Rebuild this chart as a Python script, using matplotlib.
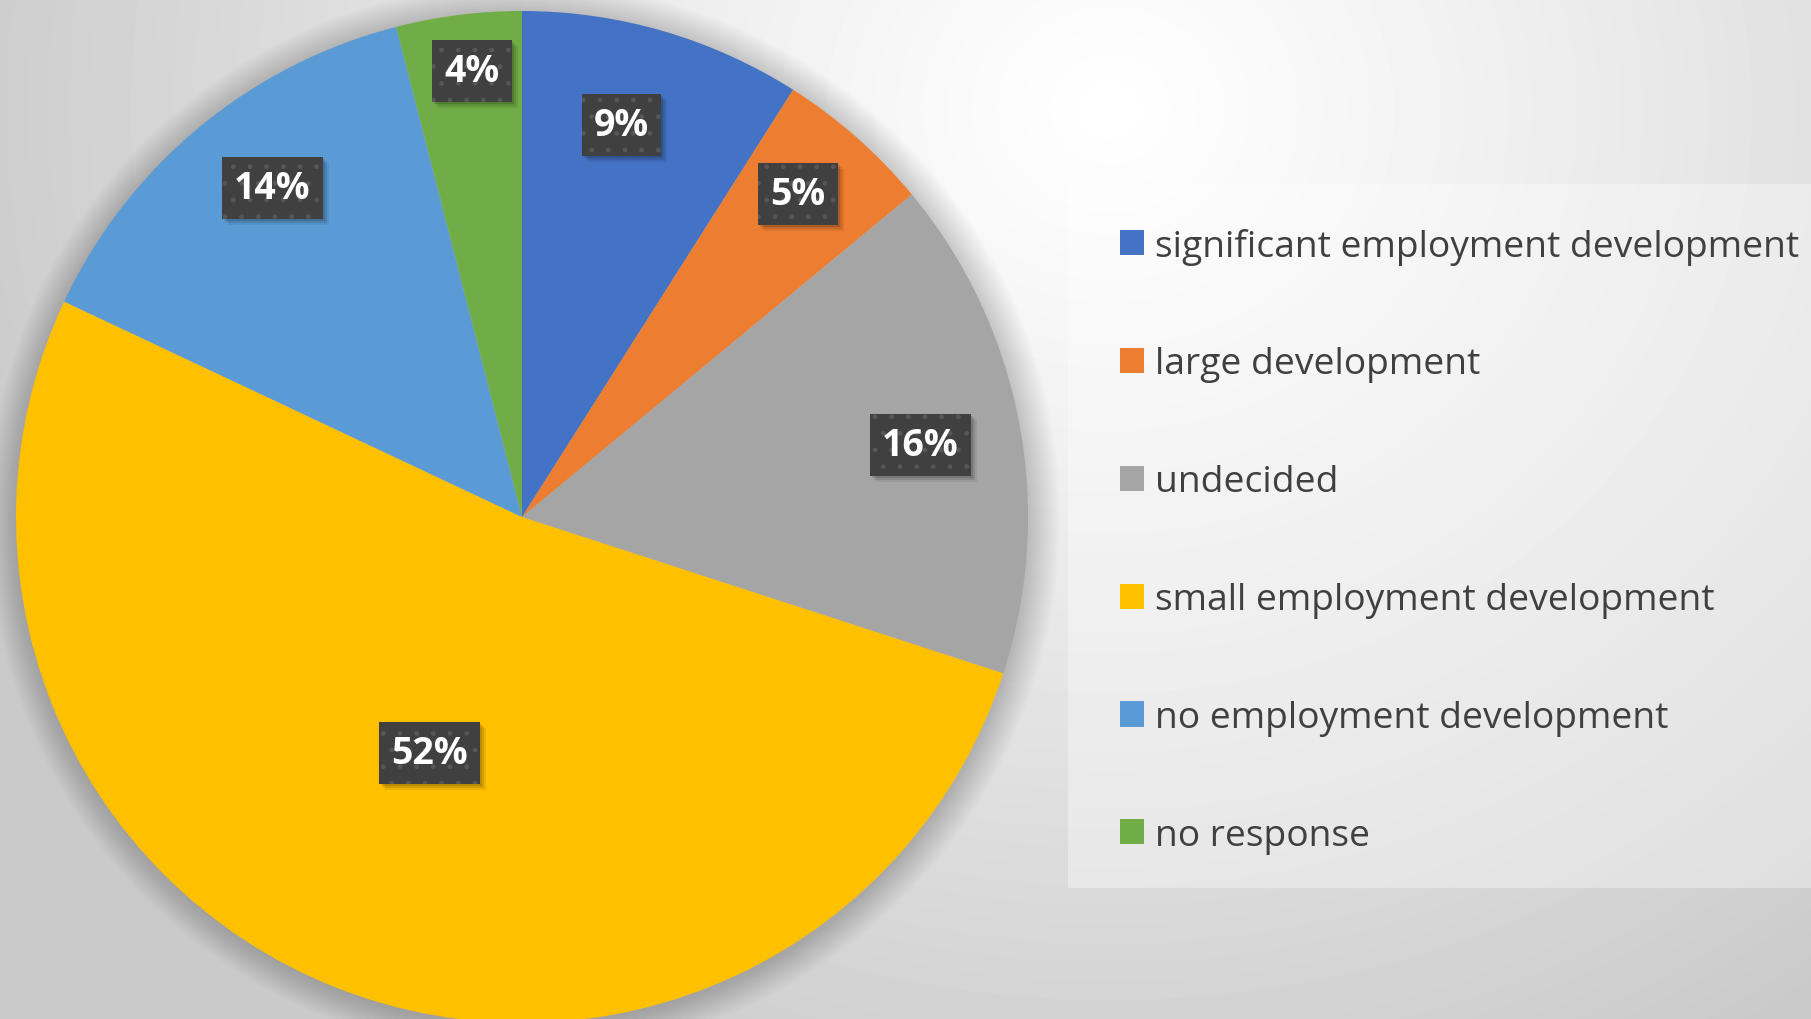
import numpy as np
import matplotlib
matplotlib.use("Agg")
import matplotlib.pyplot as plt
from matplotlib.patches import Circle, Rectangle

# data
categories = ["significant employment development", "large development", "undecided",
              "small employment development", "no employment development", "no response"]
shares = [9, 5, 16, 52, 14, 4]
labels = ["9%", "5%", "16%", "52%", "14%", "4%"]
colors = ["#4472C4", "#ED7D31", "#A5A5A5", "#FFC000", "#5B9BD5", "#70AD47"]

W, H = 1811, 1020
fig = plt.figure(figsize=(W / 100, H / 100), dpi=100)
ax = fig.add_axes([0, 0, 1, 1])

# radial grey background, whitest near the upper right of the pie
yy, xx = np.mgrid[0:H, 0:W]
d = np.hypot(xx - 1110, (yy - 110) * 1.1) / 1200
bg = 1.0 - 0.21 * np.clip(d, 0, 1) ** 1.1
ax.imshow(bg, cmap="gray", vmin=0, vmax=1, extent=(0, W, 0, H), origin="upper", zorder=0)

cx, cy, r = 522, H - 518, 506

# soft shadow around the pie
for i in range(16):
    ax.add_patch(Circle((cx + 2, cy - 2), r + 2 * i, color="black", alpha=0.01, lw=0, zorder=1))

wedges, _ = ax.pie(shares, colors=colors, startangle=90, counterclock=False,
                   center=(cx, cy), radius=r, frame=True,
                   wedgeprops=dict(linewidth=0))
for w in wedges:
    w.set_zorder(2)

ax.set_xlim(0, W)
ax.set_ylim(0, H)
ax.axis("off")

# best-fit label placement: fraction of radius and small angle shift
dist = [0.80, 0.84, 0.80, 0.50, 0.816, 0.886]
shift = [2.0, 0.9, -0.6, 0.2, -2.4, -0.8]
texts = []
for w, lab, f, s in zip(wedges, labels, dist, shift):
    ang = np.deg2rad((w.theta1 + w.theta2) / 2 + s)
    x, y = cx + f * r * np.cos(ang), cy + f * r * np.sin(ang)
    t = ax.text(x, y, lab, ha="center", va="center", color="white", fontsize=27,
                fontweight="bold", family="Open Sans", zorder=5,
                bbox=dict(boxstyle="square,pad=0.32", facecolor="#404040", edgecolor="#575757",
                          hatch=".", linewidth=0))
    texts.append(t)

# blurred drop shadow under each label box
fig.canvas.draw()
inv = ax.transData.inverted()
for t in texts:
    ext = t.get_bbox_patch().get_window_extent()
    (x0, y0), (x1, y1) = inv.transform([[ext.x0, ext.y0], [ext.x1, ext.y1]])
    for k, a in [(2, 0.12), (4, 0.10), (6, 0.07)]:
        ax.add_patch(Rectangle((x0 + k, y0 - k), x1 - x0, y1 - y0, facecolor="black",
                               alpha=a, lw=0, zorder=4))

# legend panel
ax.add_patch(Rectangle((1068, H - 889), W - 1068, 704, facecolor="white", alpha=0.35, lw=0, zorder=1))
leg = ax.legend(wedges, categories, loc="upper left", bbox_to_anchor=(1086 / W, (H - 195) / H),
                frameon=False, labelspacing=2.2, handlelength=0.66, handleheight=0.66,
                handletextpad=0.3, prop=dict(family="Open Sans", size=26.8))
for txt in leg.get_texts():
    txt.set_color("#404040")

fig.savefig("out.png", dpi=100)
